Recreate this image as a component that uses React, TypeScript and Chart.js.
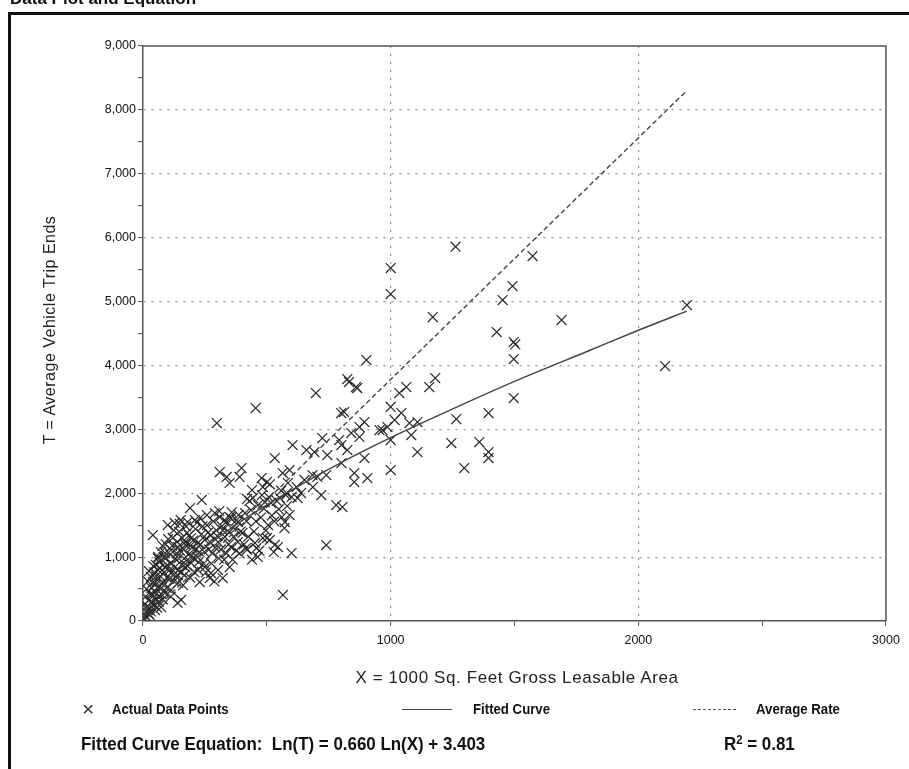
import React, { useEffect, useRef } from "react";
import { Chart, registerables } from "chart.js";

Chart.register(...registerables);

// ---------- data ----------
const xTickValues = [0, 1000, 2000, 3000];
const yTickValues = [0, 1000, 2000, 3000, 4000, 5000, 6000, 7000, 8000, 9000];

// Actual data points: X = 1000 Sq. Feet GLA, T = average vehicle trip ends
const siteX = [
  1000, 1000, 1262, 1573, 1492, 1452, 1170, 1690, 1428, 1497, 1503, 1497, 2108, 2196, 1497, 1180, 1156, 1063, 1035, 1000,
  1043, 1016, 1108, 1076, 967, 1000, 1083, 1265, 1395, 1245, 1358, 1108, 1395, 1395, 1297, 1000,
  698, 860, 832, 800, 812, 894, 987, 955, 874, 841, 874, 724, 792, 801, 604, 660, 692, 825, 744, 894, 801, 853, 853, 906,
  740, 684, 704, 652, 592, 580, 600, 624, 720, 780, 805, 592, 571, 740, 600, 298, 455, 902, 825, 865, 532,
  310, 398, 338, 390, 479, 564, 350, 585, 620, 500, 512, 440, 444, 420, 484, 480, 686, 237, 190, 258,
  310, 350, 378, 505, 560, 573, 500, 512, 420, 463, 532, 565, 40, 350, 322, 270, 229, 140,
  100, 128, 152, 180, 210, 230, 290, 330, 355, 383, 412, 436, 464, 492, 517, 553, 577, 638,
  61, 89, 113, 141, 170, 194, 222, 250, 274, 303, 331, 355, 383, 416, 452, 484, 545,
  32, 61, 89, 113, 141, 170, 194, 222, 250, 274, 303, 141, 113, 89, 61, 154, 32, 20, 48, 73,
  5, 8, 12, 15, 18, 22, 25, 28, 30, 34, 36, 40, 44, 46, 50, 52, 55, 58, 62, 66,
  70, 74, 78, 82, 86, 90, 95, 100, 105, 110, 116, 120, 125, 130, 136, 140, 146, 150, 156, 162,
  166, 172, 178, 184, 190, 198, 205, 212, 220, 228, 236, 245, 258, 266, 280, 288, 296, 306, 318, 336,
  348, 362, 372, 390, 402, 425, 440, 456, 470, 496, 520, 528, 548, 582,
  3, 6, 10, 14, 20, 24, 27, 32, 38, 42, 48, 53, 57, 60, 64, 68, 72, 76, 80, 84,
  92, 96, 102, 108, 112, 118, 124, 128, 134, 138, 144, 148, 154, 158, 164, 168, 174, 180, 186, 192,
  196, 202, 208, 214, 218, 224, 232, 240, 248, 254, 262, 270, 276, 284, 292, 300, 308, 314, 322, 328,
  340, 346, 358, 366, 376, 386, 394, 408, 418, 430, 448, 458, 476, 488, 508, 530, 540, 558,
];
const siteT = [
  5525, 5117, 5858, 5712, 5243, 5024, 4758, 4711, 4523, 4366, 4330, 4100, 3990, 4945, 3490, 3803, 3662, 3662, 3568, 3350,
  3255, 3146, 3114, 3099, 2989, 2833, 2911, 3161, 3255, 2786, 2801, 2645, 2645, 2551, 2394, 2363,
  3568, 3662, 3740, 3255, 3271, 3114, 3036, 2989, 3036, 2942, 2880, 2864, 2833, 2754, 2754, 2676, 2645, 2676, 2598, 2551, 2473, 2316, 2175, 2238,
  2285, 2285, 2254, 2207, 2363, 2003, 1941, 1925, 1972, 1815, 1784, 1659, 1455, 1189, 1064, 3099, 3333, 4085, 3787, 3646, 2551,
  2332, 2394, 2254, 2254, 2238, 2316, 2160, 2160, 2097, 2175, 2140, 2050, 1925, 1910, 2097, 1972, 2097, 1894, 1768, 1659,
  1627, 1627, 1580, 1502, 1627, 1549, 1299, 1268, 1114, 1002, 1190, 407, 1346, 845, 673, 673, 610, 282,
  1502, 1534, 1580, 1549, 1580, 1612, 1690, 1580, 1612, 1549, 1690, 1737, 1815, 1862, 1847, 1925, 1972, 2003,
  1002, 1064, 1111, 1158, 1236, 1299, 1221, 1268, 1346, 1236, 1315, 1158, 1236, 1142, 1221, 1299, 1158,
  689, 798, 845, 751, 798, 845, 908, 798, 845, 751, 798, 595, 485, 438, 376, 329, 282, 172, 172, 219,
  40, 90, 150, 60, 230, 120, 330, 200, 420, 520, 300, 610, 250, 760, 450, 880, 330, 640, 540, 920,
  700, 420, 1180, 600, 760, 980, 520, 870, 660, 1040, 900, 1300, 620, 980, 1060, 720, 1400, 1100, 880, 560,
  980, 1190, 1380, 1040, 680, 1150, 980, 1440, 1000, 1080, 1360, 900, 1500, 1120, 1060, 620, 1420, 980, 1480, 1060,
  1390, 960, 1440, 1060, 1380, 1320, 960, 1560, 1100, 1420, 1650, 1080, 1750, 1800,
  110, 260, 380, 500, 620, 780, 90, 150, 420, 860, 560, 700, 210, 980, 300, 830, 1080, 520, 340, 1000,
  1200, 680, 1280, 800, 380, 1180, 1420, 840, 700, 1240, 980, 1520, 760, 1300, 1120, 720, 1480, 860, 1340, 1180,
  1020, 1260, 760, 1120, 1540, 920, 1200, 1480, 1080, 760, 1380, 1240, 900, 1560, 1150, 1330, 1720, 1120, 1420, 960,
  1520, 1200, 1700, 1320, 1100, 1660, 1400, 1200, 1560, 1880, 1400, 1140, 1620, 1760, 1940, 1560, 1880, 2040,
];

// Fitted curve
const fitX = [1, 5, 20, 50, 100, 200, 400, 600, 800, 1000, 1200, 1500, 1800, 2000, 2196];
const fitT = [30, 87, 217, 398, 628, 990, 1570, 2050, 2480, 2870, 3230, 3750, 4230, 4550, 4850];

// Average rate line
const rateX = [0, 2190];
const rateT = [0, 8280];

const AXIS = "#555";
const GRID = "#8f8f8f";
const INK = "#2a2a2a";

const framePlugin = {
  id: "frame",
  afterDraw(chart: any) {
    const { ctx, chartArea } = chart;
    const { left, top, right, bottom } = chartArea;
    ctx.save();
    ctx.strokeStyle = AXIS;
    ctx.lineWidth = 1.5;
    ctx.beginPath();
    ctx.moveTo(left, top);
    ctx.lineTo(right, top);
    ctx.lineTo(right, bottom);
    ctx.stroke();
    ctx.restore();
  },
};

export default function App() {
  const ref = useRef<HTMLCanvasElement>(null);

  useEffect(() => {
    if (!ref.current) return;
    const pts = siteX.map((x, i) => ({ x, y: siteT[i] }));
    const fit = fitX.map((x, i) => ({ x, y: fitT[i] }));
    const rate = rateX.map((x, i) => ({ x, y: rateT[i] }));
    const tickFont = { family: "'Liberation Sans', Arial, sans-serif", size: 12.5 };

    const chart = new Chart(ref.current, {
      type: "scatter",
      data: {
        datasets: [
          {
            label: "Fitted Curve",
            data: fit,
            showLine: true,
            borderColor: "#444",
            borderWidth: 1.5,
            pointRadius: 0,
            cubicInterpolationMode: "monotone",
          } as any,
          {
            label: "Average Rate",
            data: rate,
            showLine: true,
            borderColor: "#444",
            borderWidth: 1.4,
            borderDash: [5, 3],
            pointRadius: 0,
          } as any,
          {
            label: "Actual Data Points",
            data: pts,
            pointStyle: "crossRot",
            pointRadius: 7,
            borderColor: INK,
            borderWidth: 1.2,
            backgroundColor: INK,
          } as any,
        ],
      },
      options: {
        animation: false,
        responsive: false,
        maintainAspectRatio: false,
        layout: { padding: { left: 0, top: 46, right: 23, bottom: 0 } },
        plugins: { legend: { display: false }, tooltip: { enabled: false } },
        scales: {
          x: {
            type: "linear",
            min: xTickValues[0],
            max: xTickValues[xTickValues.length - 1],
            afterFit: (s: any) => {
              s.height = 148;
            },
            ticks: {
              stepSize: 500,
              autoSkip: false,
              maxRotation: 0,
              padding: 7,
              color: "#111",
              font: tickFont,
              callback: (v: any) => (xTickValues.includes(Number(v)) ? String(v) : ""),
            },
            grid: {
              color: (c: any) => {
                const v = c.tick ? c.tick.value : 0;
                return v % 1000 === 0 && v > 0 && v < 3000 ? GRID : "rgba(0,0,0,0)";
              },
              lineWidth: 1.2,
              tickColor: AXIS,
              tickWidth: 1,
              tickLength: 5,
            },
            border: { color: AXIS, width: 1.5, dash: [2, 6] },
          },
          y: {
            type: "linear",
            min: yTickValues[0],
            max: yTickValues[yTickValues.length - 1],
            afterFit: (s: any) => {
              s.width = 143;
            },
            ticks: {
              stepSize: 500,
              autoSkip: false,
              padding: 2,
              color: "#111",
              font: tickFont,
              callback: (v: any) =>
                yTickValues.includes(Number(v)) ? Number(v).toLocaleString("en-US") : "",
            },
            grid: {
              color: (c: any) => {
                const v = c.tick ? c.tick.value : 0;
                return v % 1000 === 0 && v > 0 && v < 9000 ? GRID : "rgba(0,0,0,0)";
              },
              lineWidth: 1.2,
              tickColor: AXIS,
              tickWidth: 1,
              tickLength: 5,
            },
            border: { color: AXIS, width: 1.5, dash: [2, 6] },
          },
        },
      },
      plugins: [framePlugin],
    } as any);
    return () => chart.destroy();
  }, []);

  const sans = "'Liberation Sans', Arial, Helvetica, sans-serif";
  const legendText: React.CSSProperties = {
    position: "absolute",
    top: 700,
    fontWeight: "bold",
    fontSize: 15,
    lineHeight: "18px",
    whiteSpace: "nowrap",
    transform: "scaleX(0.88)",
    transformOrigin: "left center",
    color: "#111",
  };
  const eqText: React.CSSProperties = {
    position: "absolute",
    top: 734,
    fontWeight: "bold",
    fontSize: 18,
    lineHeight: "21px",
    whiteSpace: "pre",
    transform: "scaleX(0.94)",
    transformOrigin: "left center",
    color: "#111",
  };

  return (
    <div
      style={{
        position: "absolute",
        left: 0,
        top: 0,
        width: 909,
        height: 769,
        overflow: "hidden",
        background: "#fff",
        fontFamily: sans,
        color: "#222",
      }}
    >
      <canvas ref={ref} width={909} height={769} style={{ position: "absolute", left: 0, top: 0 }} />

      {/* outer frame */}
      <div
        style={{
          position: "absolute",
          left: 8,
          top: 12,
          width: 901,
          height: 757,
          borderLeft: "3px solid #111",
          borderTop: "3px solid #111",
          boxSizing: "border-box",
        }}
      />

      {/* section title (cut off at top of page) */}
      <div
        style={{
          position: "absolute",
          left: 10,
          top: -10,
          fontSize: 17,
          lineHeight: "17px",
          fontWeight: "bold",
          whiteSpace: "nowrap",
          color: "#111",
        }}
      >
        Data Plot and Equation
      </div>

      {/* axis titles */}
      <div
        style={{
          position: "absolute",
          left: 50,
          top: 330,
          transform: "translate(-50%, -50%) rotate(-90deg)",
          fontSize: 16,
          letterSpacing: 0.5,
          whiteSpace: "nowrap",
          color: "#222",
        }}
      >
        T = Average Vehicle Trip Ends
      </div>
      <div
        style={{
          position: "absolute",
          left: 517,
          top: 678,
          transform: "translate(-50%, -50%)",
          fontSize: 17,
          letterSpacing: 0.6,
          whiteSpace: "nowrap",
          color: "#222",
        }}
      >
        X = 1000 Sq. Feet Gross Leasable Area
      </div>

      {/* legend */}
      <div
        style={{
          position: "absolute",
          left: 82,
          top: 698,
          fontSize: 21,
          lineHeight: "21px",
          color: "#333",
        }}
      >
        ×
      </div>
      <div style={{ ...legendText, left: 112 }}>Actual Data Points</div>
      <div style={{ position: "absolute", left: 402, top: 709, width: 50, borderTop: "1.5px solid #444" }} />
      <div style={{ ...legendText, left: 473 }}>Fitted Curve</div>
      <div style={{ position: "absolute", left: 693, top: 709, width: 43, borderTop: "1.5px dashed #555" }} />
      <div style={{ ...legendText, left: 756 }}>Average Rate</div>

      {/* equation */}
      <div style={{ ...eqText, left: 81 }}>{"Fitted Curve Equation:  Ln(T) = 0.660 Ln(X) + 3.403"}</div>
      <div style={{ ...eqText, left: 724, whiteSpace: "nowrap" }}>
        R<sup style={{ fontSize: 12, verticalAlign: "6px", lineHeight: 0 }}>2</sup> = 0.81
      </div>
    </div>
  );
}
